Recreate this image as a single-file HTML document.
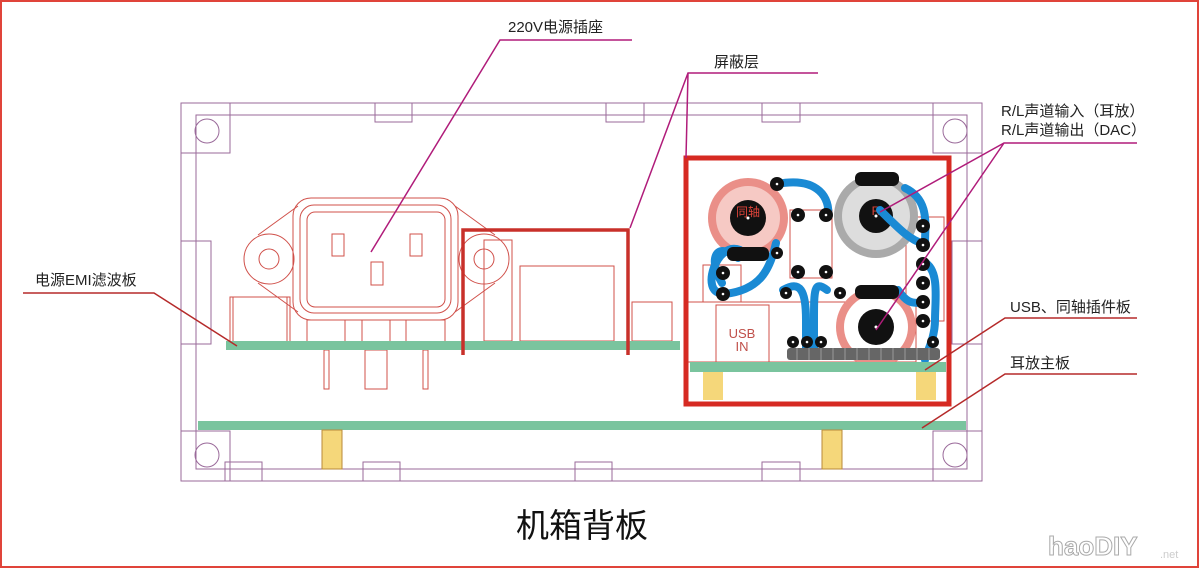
<!DOCTYPE html>
<html><head><meta charset="utf-8"><style>
html,body{margin:0;padding:0;background:#fff}
svg{display:block}
text{font-family:"Liberation Sans","Noto Sans CJK SC",sans-serif;fill:#222}
</style></head><body>
<svg width="1200" height="569" viewBox="0 0 1200 569" xmlns="http://www.w3.org/2000/svg">
<rect x="1" y="1" width="1197" height="566" fill="none" stroke="#e0443a" stroke-width="2"/>
<g fill="none" stroke="#9a6a9a" stroke-width="1">
<rect x="181" y="103" width="801" height="378"/>
<rect x="196" y="115" width="771" height="354"/>
<rect x="181" y="103" width="49" height="50"/><circle cx="207" cy="131" r="12"/>
<rect x="933" y="103" width="49" height="50"/><circle cx="955" cy="131" r="12"/>
<rect x="181" y="431" width="49" height="50"/><circle cx="207" cy="455" r="12"/>
<rect x="933" y="431" width="49" height="50"/><circle cx="955" cy="455" r="12"/>
<rect x="375" y="103" width="37" height="19"/><rect x="606" y="103" width="38" height="19"/><rect x="762" y="103" width="38" height="19"/>
<rect x="225" y="462" width="37" height="19"/><rect x="363" y="462" width="37" height="19"/><rect x="575" y="462" width="37" height="19"/><rect x="762" y="462" width="38" height="19"/>
<rect x="181" y="241" width="30" height="103"/><rect x="952" y="241" width="30" height="103"/>
</g>
<g fill="none" stroke="#d0504a" stroke-width="1">
<rect x="293" y="198" width="165" height="122" rx="18"/>
<rect x="300" y="205" width="151" height="108" rx="14"/>
<rect x="307" y="212" width="138" height="95" rx="8"/>
<circle cx="269" cy="259" r="25"/><circle cx="269" cy="259" r="10"/>
<circle cx="484" cy="259" r="25"/><circle cx="484" cy="259" r="10"/>
<path d="M258 235 L298 206 M258 283 L298 312 M495 235 L455 206 M495 283 L455 312"/>
<rect x="332" y="234" width="12" height="22"/><rect x="410" y="234" width="12" height="22"/><rect x="371" y="262" width="12" height="23"/>
<rect x="307" y="320" width="38" height="22"/><rect x="362" y="320" width="28" height="22"/><rect x="406" y="320" width="39" height="22"/>
<rect x="324" y="350" width="5" height="39"/><rect x="365" y="350" width="22" height="39"/><rect x="423" y="350" width="5" height="39"/>
<rect x="230" y="297" width="60" height="45"/><rect x="233" y="297" width="54" height="45"/>
<rect x="484" y="240" width="28" height="101"/><rect x="520" y="266" width="94" height="75"/><rect x="632" y="302" width="40" height="39"/>
</g>
<rect x="226" y="341" width="454" height="9" fill="#7ac49e"/>
<path d="M463 355 V230 H628 V355" fill="none" stroke="#c8302a" stroke-width="3.5"/>
<rect x="198" y="421" width="768" height="9" fill="#7ac49e"/>
<rect x="322" y="430" width="20" height="39" fill="#f5d77a" stroke="#b98a3a"/>
<rect x="822" y="430" width="20" height="39" fill="#f5d77a" stroke="#b98a3a"/>
<g fill="none" stroke="#d0504a" stroke-width="1">
<rect x="703" y="265" width="38" height="37"/><rect x="716" y="305" width="53" height="57"/>
<rect x="790" y="210" width="42" height="68"/><rect x="906" y="217" width="38" height="104"/>
<rect x="686" y="302" width="230" height="60"/>
</g>
<text x="742" y="338" font-size="13" text-anchor="middle" style="fill:#c0504a">USB</text>
<text x="742" y="351" font-size="13" text-anchor="middle" style="fill:#c0504a">IN</text>
<circle cx="748" cy="218" r="40" fill="#ea8f88"/><circle cx="748" cy="218" r="32" fill="#f6c9c4"/><circle cx="748" cy="218" r="18" fill="#111"/>
<text x="748" y="216" font-size="12" text-anchor="middle" style="fill:#e0443a">同轴</text>
<circle cx="876" cy="216" r="42" fill="#aaa"/><circle cx="876" cy="216" r="34" fill="#ddd"/><circle cx="876" cy="216" r="17" fill="#111"/>
<text x="876" y="215" font-size="12" text-anchor="middle" style="fill:#e0443a">R</text>
<circle cx="876" cy="327" r="40" fill="#ea8f88"/><circle cx="876" cy="327" r="32" fill="#fff"/><circle cx="876" cy="327" r="18" fill="#111"/>
<g fill="none" stroke="#1a8ad4" stroke-width="8" stroke-linecap="round">
<path d="M777 184 C820 176 830 200 828 215"/>
<path d="M722 283 C708 260 715 240 738 258 M722 293 C700 294 716 240 740 250"/>
<path d="M776 243 C770 270 760 290 725 294"/>
<path d="M905 188 C930 200 925 225 925 243"/>
<path d="M924 262 C940 270 935 300 935 320 C935 340 925 355 925 360"/>
<path d="M783 290 C800 280 806 290 806 320 V355 M827 290 C814 280 814 290 814 320 V355"/>
<path d="M898 290 C905 300 910 305 924 302"/>
<path d="M880 210 C900 230 910 240 924 244"/>
</g>
<g fill="#111">
<rect x="727" y="247" width="42" height="14" rx="6"/><rect x="855" y="172" width="44" height="14" rx="6"/><rect x="855" y="285" width="44" height="14" rx="6"/>
</g>
<g fill="#111" stroke="none">
<circle cx="777" cy="184" r="7"/><circle cx="798" cy="215" r="7"/><circle cx="826" cy="215" r="7"/><circle cx="777" cy="253" r="6"/>
<circle cx="723" cy="273" r="7"/><circle cx="723" cy="294" r="7"/>
<circle cx="798" cy="272" r="7"/><circle cx="826" cy="272" r="7"/><circle cx="786" cy="293" r="6"/><circle cx="840" cy="293" r="6"/>
<circle cx="923" cy="226" r="7"/><circle cx="923" cy="245" r="7"/><circle cx="923" cy="264" r="7"/><circle cx="923" cy="283" r="7"/><circle cx="923" cy="302" r="7"/><circle cx="923" cy="321" r="7"/><circle cx="933" cy="342" r="6"/>
<circle cx="793" cy="342" r="6"/><circle cx="807" cy="342" r="6"/><circle cx="821" cy="342" r="6"/>
</g>
<g fill="#fff">
<circle cx="777" cy="184" r="1.3"/><circle cx="798" cy="215" r="1.3"/><circle cx="826" cy="215" r="1.3"/><circle cx="777" cy="253" r="1.3"/>
<circle cx="723" cy="273" r="1.3"/><circle cx="723" cy="294" r="1.3"/>
<circle cx="798" cy="272" r="1.3"/><circle cx="826" cy="272" r="1.3"/><circle cx="786" cy="293" r="1.3"/><circle cx="840" cy="293" r="1.3"/>
<circle cx="923" cy="226" r="1.3"/><circle cx="923" cy="245" r="1.3"/><circle cx="923" cy="264" r="1.3"/><circle cx="923" cy="283" r="1.3"/><circle cx="923" cy="302" r="1.3"/><circle cx="923" cy="321" r="1.3"/><circle cx="933" cy="342" r="1.3"/>
<circle cx="793" cy="342" r="1.3"/><circle cx="807" cy="342" r="1.3"/><circle cx="821" cy="342" r="1.3"/>
<circle cx="748" cy="218" r="1.5"/><circle cx="876" cy="216" r="1.5"/><circle cx="876" cy="327" r="1.5"/>
</g>
<rect x="787" y="348" width="153" height="12" rx="3" fill="#666"/>
<g stroke="#999" stroke-width="1"><path d="M797 348v12M809 348v12M821 348v12M833 348v12M845 348v12M857 348v12M869 348v12M881 348v12M893 348v12M905 348v12M917 348v12M929 348v12"/></g>
<rect x="690" y="362" width="256" height="10" fill="#7ac49e"/>
<rect x="703" y="372" width="20" height="28" fill="#f5d77a"/><rect x="916" y="372" width="20" height="28" fill="#f5d77a"/>
<rect x="686" y="158" width="263" height="246" fill="none" stroke="#d62a22" stroke-width="5"/>
<g fill="none" stroke="#b01c7a" stroke-width="1.5">
<path d="M632 40 H500 L371 252"/>
<path d="M818 73 H688 L630 228 M688 73 L686 158"/>
<path d="M1137 143 H1004 L880 212 M1004 143 L876 330"/>
</g>
<g fill="none" stroke="#b52a2a" stroke-width="1.5">
<path d="M23 293 H154 L237 346"/>
<path d="M1137 318 H1005 L925 370"/>
<path d="M1137 374 H1005 L922 428"/>
</g>
<text x="508" y="32" font-size="15">220V电源插座</text>
<text x="714" y="67" font-size="15">屏蔽层</text>
<text x="1001" y="116" font-size="15">R/L声道输入（耳放）</text>
<text x="1001" y="135" font-size="15">R/L声道输出（DAC）</text>
<text x="35" y="285" font-size="15">电源EMI滤波板</text>
<text x="1010" y="312" font-size="15">USB、同轴插件板</text>
<text x="1010" y="368" font-size="15">耳放主板</text>
<text x="582" y="537" font-size="33" text-anchor="middle" style="fill:#111">机箱背板</text>
<text x="1048" y="555" font-size="26" font-weight="bold" style="fill:#fff;stroke:#aaa;stroke-width:1">haoDIY</text>
<text x="1160" y="558" font-size="11" style="fill:#ccc">.net</text>
</svg>
</body></html>
